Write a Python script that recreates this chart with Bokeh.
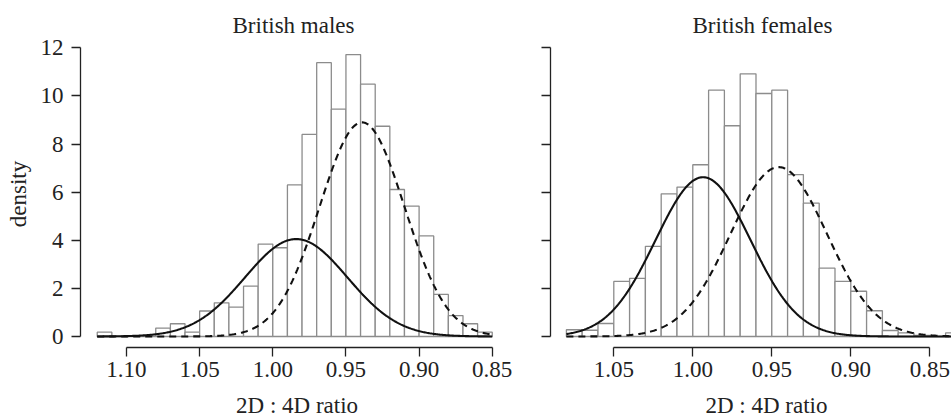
import numpy as np
from bokeh.plotting import figure
from bokeh.layouts import row, column
from bokeh.models import Range1d, FixedTicker, NumeralTickFormatter, CustomJSTickFormatter
from bokeh.core.properties import value
from bokeh.embed import file_html
from bokeh.resources import INLINE

# ---------------- data ----------------
# histogram bins (upper edge, lower edge) -- width 0.01, x axis reversed
male_bin_hi = [1.12, 1.11, 1.10, 1.09, 1.08, 1.07, 1.06, 1.05, 1.04, 1.03, 1.02, 1.01, 1.00, 0.99,
               0.98, 0.97, 0.96, 0.95, 0.94, 0.93, 0.92, 0.91, 0.90, 0.89, 0.88, 0.87, 0.86]
male_bin_lo = [1.11, 1.10, 1.09, 1.08, 1.07, 1.06, 1.05, 1.04, 1.03, 1.02, 1.01, 1.00, 0.99, 0.98,
               0.97, 0.96, 0.95, 0.94, 0.93, 0.92, 0.91, 0.90, 0.89, 0.88, 0.87, 0.86, 0.85]
male_density = [0.18, 0.0, 0.0, 0.0, 0.35, 0.53, 0.18, 1.06, 1.40, 1.22, 2.09, 3.84, 3.69, 6.30,
                8.40, 11.38, 9.45, 11.72, 10.49, 8.74, 6.11, 5.42, 4.18, 1.75, 0.87, 0.53, 0.18]

female_bin_hi = [1.08, 1.07, 1.06, 1.05, 1.04, 1.03, 1.02, 1.01, 1.00, 0.99, 0.98, 0.97, 0.96, 0.95,
                 0.94, 0.93, 0.92, 0.91, 0.90, 0.89, 0.88, 0.87, 0.86, 0.85, 0.84]
female_bin_lo = [1.07, 1.06, 1.05, 1.04, 1.03, 1.02, 1.01, 1.00, 0.99, 0.98, 0.97, 0.96, 0.95, 0.94,
                 0.93, 0.92, 0.91, 0.90, 0.89, 0.88, 0.87, 0.86, 0.85, 0.84, 0.83]
female_density = [0.28, 0.26, 0.54, 2.29, 2.42, 3.75, 5.93, 6.21, 7.14, 10.24, 8.76, 10.92, 10.10, 10.24,
                  6.73, 5.54, 2.84, 2.29, 1.88, 1.07, 0.25, 0.15, 0.05, 0.0, 0.15]

# fitted normal components: (mean, sd, peak height)
male_solid = (0.984, 0.035, 4.05)
male_dashed = (0.939, 0.029, 8.90)
female_solid = (0.9935, 0.030, 6.62)
female_dashed = (0.9456, 0.0305, 7.04)

male_curve_span = (1.12, 0.85)
female_curve_span = (1.08, 0.83)

male_xticks = [1.10, 1.05, 1.00, 0.95, 0.90, 0.85]
female_xticks = [1.05, 1.00, 0.95, 0.90, 0.85]
yticks = [0, 2, 4, 6, 8, 10, 12]

titles = ["British males", "British females"]
xlabel = "2D : 4D ratio"
ylabel = "density"

FONT = "Liberation Serif"
FS = "23px"
INK = "#222222"
BAR_LINE = "#8c8c8c"
MAIN_H = 392
STRIP_H = 26


def normal_curve(params, span):
    mu, sd, peak = params
    x = np.linspace(span[0], span[1], 400)
    return x, peak * np.exp(-0.5 * ((x - mu) / sd) ** 2)


def style(p, xticks, show_ylabels):
    p.outline_line_color = None
    p.xgrid.visible = False
    p.ygrid.visible = False
    p.background_fill_color = "white"
    p.border_fill_color = "white"
    for ax in (p.xaxis[0], p.yaxis[0]):
        ax.axis_line_color = INK
        ax.axis_line_width = 1.3
        ax.major_tick_line_color = INK
        ax.major_tick_line_width = 1.3
        ax.major_tick_out = 9
        ax.major_tick_in = 0
        ax.minor_tick_out = 0
        ax.minor_tick_in = 0
        ax.major_label_text_font = FONT
        ax.major_label_text_font_size = FS
        ax.major_label_text_color = INK
    xa = p.xaxis[0]
    xa.ticker = FixedTicker(ticks=xticks)
    xa.formatter = NumeralTickFormatter(format="0.00")
    xa.bounds = (min(xticks), max(xticks))
    xa.major_label_standoff = 5
    ya = p.yaxis[0]
    ya.ticker = FixedTicker(ticks=yticks)
    ya.bounds = (0, 12)
    ya.major_label_standoff = 8
    if show_ylabels:
        ya.axis_label = ylabel
        ya.axis_label_text_font = FONT
        ya.axis_label_text_font_size = FS
        ya.axis_label_text_font_style = "normal"
        ya.axis_label_text_color = INK
        ya.axis_label_standoff = 7
    else:
        ya.formatter = CustomJSTickFormatter(code="return ''")


def panel(width, x_range, border_left, border_right, hi, lo, dens, solid, dashed, span,
          xticks, show_ylabels, title, title_offset):
    p = figure(width=width, height=MAIN_H, x_range=x_range, y_range=Range1d(-0.4572, 12.3036),
               min_border_left=border_left, min_border_right=border_right,
               min_border_top=40, min_border_bottom=MAIN_H - 347,
               output_backend="svg", toolbar_location=None)
    p.title.text = title
    p.title.align = "left"
    p.title.offset = title_offset
    p.title.text_font = FONT
    p.title.text_font_size = FS
    p.title.text_font_style = "normal"
    p.title.text_color = INK
    p.title.standoff = 6
    p.quad(left=hi, right=lo, bottom=0, top=dens, fill_color="white",
           line_color=BAR_LINE, line_width=1.3)
    xs, ys = normal_curve(solid, span)
    p.line(xs, ys, line_color="#111111", line_width=2.1)
    xd, yd = normal_curve(dashed, span)
    p.line(xd, yd, line_color="#111111", line_width=2.1, line_dash="7 5")
    style(p, xticks, show_ylabels)
    return p


def label_strip(width, x_range, border_left, border_right, label_x):
    s = figure(width=width, height=STRIP_H, x_range=x_range, y_range=Range1d(0, STRIP_H),
               min_border_left=border_left, min_border_right=border_right,
               min_border_top=0, min_border_bottom=0,
               x_axis_location=None, y_axis_location=None,
               output_backend="svg", toolbar_location=None)
    s.outline_line_color = None
    s.xgrid.visible = False
    s.ygrid.visible = False
    s.text(x=[label_x], y=[13], text=[xlabel], text_font=value(FONT), text_font_size=value(FS),
           text_color=INK, text_align="center", text_baseline="alphabetic")
    return s


xr1 = Range1d(1.13144, 0.83889)
xr2 = Range1d(1.09006, 0.83626)

p1 = panel(515, xr1, 80, 7, male_bin_hi, male_bin_lo, male_density,
           male_solid, male_dashed, male_curve_span, male_xticks, True, titles[0], 152)
p2 = panel(436, xr2, 35, 0, female_bin_hi, female_bin_lo, female_density,
           female_solid, female_dashed, female_curve_span, female_xticks, False, titles[1], 142)
s1 = label_strip(515, xr1, 80, 7, 0.9834)
s2 = label_strip(436, xr2, 35, 0, 0.9534)

layout = column(row(p1, p2, spacing=0), row(s1, s2, spacing=0), spacing=0)
open("out.html", "w").write(file_html(layout, INLINE))
